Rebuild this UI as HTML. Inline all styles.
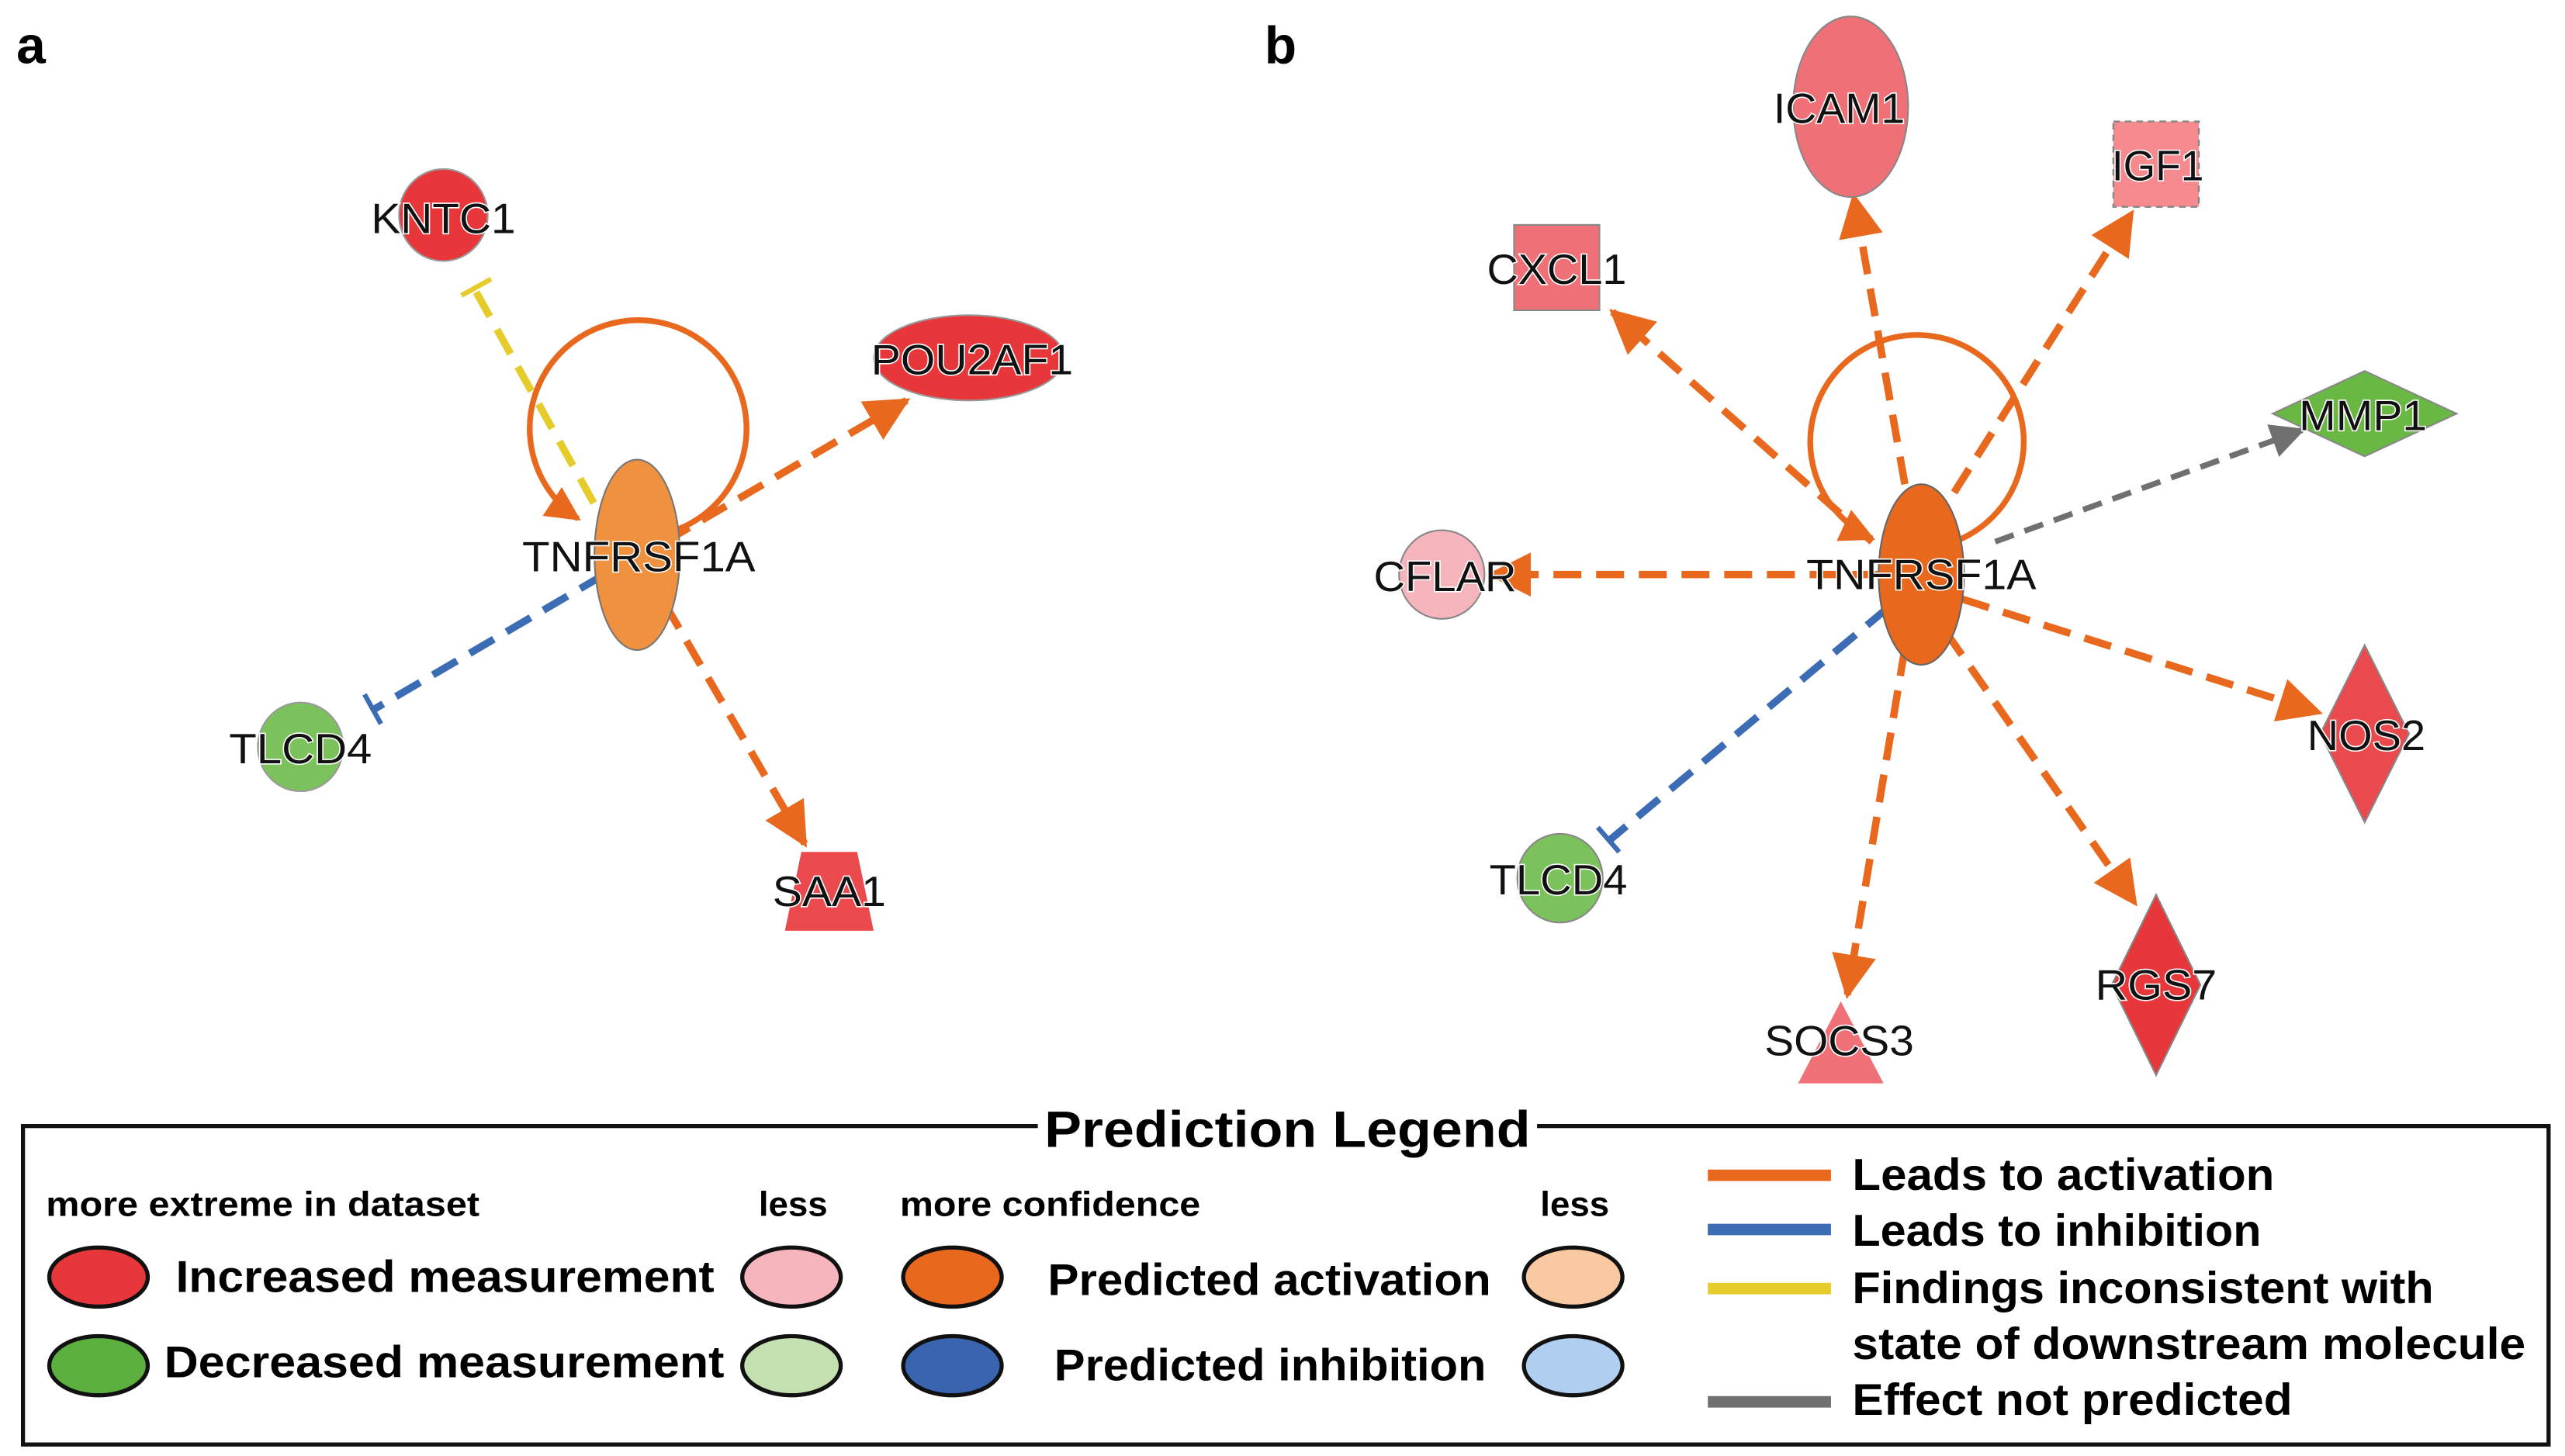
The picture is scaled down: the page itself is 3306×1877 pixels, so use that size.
<!DOCTYPE html>
<html><head><meta charset="utf-8"><style>
html,body{margin:0;padding:0;background:#fff;}
svg{display:block;}
.n{font-family:"Liberation Sans",Arial,sans-serif;font-size:26px;fill:#111;text-anchor:middle;dominant-baseline:central;paint-order:stroke;stroke:#fff;stroke-width:1.5px;}
.lg{font-family:"Liberation Sans",Arial,sans-serif;font-weight:bold;fill:#000;dominant-baseline:central;}
</style></head><body>
<svg width="3306" height="1877" viewBox="0 0 1562 887" preserveAspectRatio="none" xmlns="http://www.w3.org/2000/svg">
<defs>
<marker id="ao" viewBox="0 0 10 10" refX="9" refY="5" markerWidth="6" markerHeight="6" markerUnits="strokeWidth" orient="auto"><path d="M0,0 L10,5 L0,10 z" fill="#e8681e"/></marker>
<marker id="ag" viewBox="0 0 10 10" refX="9" refY="5" markerWidth="6" markerHeight="6" markerUnits="strokeWidth" orient="auto"><path d="M0,0 L10,5 L0,10 z" fill="#707070"/></marker>
</defs>
<rect width="1562" height="887" fill="#fff"/>
<text x="10" y="28" class="lg" style="font-size:32px">a</text>
<text x="770" y="28" class="lg" style="font-size:32px">b</text>

<!-- Panel a -->
<g fill="none" stroke-width="4.5" stroke-dasharray="17 9">
<line x1="290" y1="178" x2="368" y2="318" stroke="#e6cc2a"/>
<line x1="368" y1="350" x2="228" y2="432" stroke="#3c6cb4"/>
<line x1="405" y1="330" x2="552" y2="244" stroke="#e8681e" marker-end="url(#ao)"/>
<line x1="405" y1="368" x2="490" y2="514" stroke="#e8681e" marker-end="url(#ao)"/>
</g>
<line x1="281" y1="180" x2="299" y2="170" stroke="#e6cc2a" stroke-width="3"/>
<line x1="222" y1="423" x2="232" y2="441" stroke="#3c6cb4" stroke-width="3"/>
<path d="M405,325 A66,66 0 1 0 352,316" fill="none" stroke="#e8681e" stroke-width="3.5" marker-end="url(#ao)"/>
<ellipse cx="270" cy="131" rx="27" ry="28" fill="#e8373a" stroke="#999" stroke-width="1"/>
<ellipse cx="590" cy="218" rx="58" ry="26" fill="#e8373a" stroke="#999" stroke-width="1"/>
<ellipse cx="183" cy="455" rx="26" ry="27" fill="#7cc25c" stroke="#999" stroke-width="1"/>
<polygon points="488,519 522,519 532,567 478,567" fill="#ea4a4e"/>
<ellipse cx="388" cy="338" rx="26" ry="58" fill="#f0913f" stroke="#777" stroke-width="1"/>
<text x="270" y="133" class="n" textLength="88" lengthAdjust="spacingAndGlyphs">KNTC1</text>
<text x="592" y="219" class="n" textLength="123" lengthAdjust="spacingAndGlyphs">POU2AF1</text>
<text x="389" y="339" class="n" textLength="142" lengthAdjust="spacingAndGlyphs">TNFRSF1A</text>
<text x="183" y="456" class="n" textLength="87" lengthAdjust="spacingAndGlyphs">TLCD4</text>
<text x="505" y="543" class="n" textLength="69" lengthAdjust="spacingAndGlyphs">SAA1</text>

<!-- Panel b -->
<g fill="none" stroke-width="4.5" stroke-dasharray="17 9">
<line x1="1160" y1="295" x2="1129" y2="120" stroke="#e8681e" marker-end="url(#ao)"/>
<line x1="1190" y1="300" x2="1298" y2="130" stroke="#e8681e" marker-end="url(#ao)"/>
<line x1="1140" y1="330" x2="982" y2="190" stroke="#e8681e" marker-end="url(#ao)"/>
<line x1="1145" y1="350" x2="908" y2="350" stroke="#e8681e" marker-end="url(#ao)"/>
<line x1="1195" y1="365" x2="1412" y2="434" stroke="#e8681e" marker-end="url(#ao)"/>
<line x1="1185" y1="385" x2="1300" y2="550" stroke="#e8681e" marker-end="url(#ao)"/>
<line x1="1160" y1="395" x2="1125" y2="606" stroke="#e8681e" marker-end="url(#ao)"/>
<line x1="1150" y1="370" x2="980" y2="512" stroke="#3c6cb4"/>
<line x1="1215" y1="330" x2="1402" y2="262" stroke="#707070" stroke-width="3.5" stroke-dasharray="12 7" marker-end="url(#ag)"/>
</g>
<line x1="973" y1="504" x2="986" y2="519" stroke="#3c6cb4" stroke-width="3"/>
<path d="M1190,330 A65,65 0 1 0 1140,328" fill="none" stroke="#e8681e" stroke-width="3.5" marker-end="url(#ao)"/>
<ellipse cx="1127" cy="65" rx="35" ry="55" fill="#f07078" stroke="#888" stroke-width="1"/>
<rect x="1287" y="74" width="52" height="52" fill="#f48a8e" stroke="#888" stroke-width="1.2" stroke-dasharray="4 3"/>
<rect x="922" y="137" width="52" height="52" fill="#f07078" stroke="#888" stroke-width="1"/>
<polygon points="1384,252 1440,226 1496,252 1440,278" fill="#6ab844" stroke="#888" stroke-width="1"/>
<ellipse cx="878" cy="350" rx="26" ry="27" fill="#f6b4bc" stroke="#888" stroke-width="1"/>
<polygon points="1440,393 1467,447 1440,501 1413,447" fill="#ea4a4e" stroke="#888" stroke-width="1"/>
<ellipse cx="950" cy="535" rx="26" ry="27" fill="#7cc25c" stroke="#888" stroke-width="1"/>
<polygon points="1313,545 1340,600 1313,655 1286,600" fill="#e8373a" stroke="#888" stroke-width="1"/>
<polygon points="1121,610 1147,660 1095,660" fill="#f07078"/>
<ellipse cx="1170" cy="350" rx="26" ry="55" fill="#e8681e" stroke="#666" stroke-width="1"/>
<text x="1120" y="66" class="n" textLength="80" lengthAdjust="spacingAndGlyphs">ICAM1</text>
<text x="1314" y="101" class="n" textLength="56" lengthAdjust="spacingAndGlyphs">IGF1</text>
<text x="948" y="164" class="n" textLength="85" lengthAdjust="spacingAndGlyphs">CXCL1</text>
<text x="1439" y="253" class="n" textLength="78" lengthAdjust="spacingAndGlyphs">MMP1</text>
<text x="880" y="351" class="n" textLength="87" lengthAdjust="spacingAndGlyphs">CFLAR</text>
<text x="1170" y="350" class="n" textLength="140" lengthAdjust="spacingAndGlyphs">TNFRSF1A</text>
<text x="1441" y="448" class="n" textLength="72" lengthAdjust="spacingAndGlyphs">NOS2</text>
<text x="949" y="536" class="n" textLength="84" lengthAdjust="spacingAndGlyphs">TLCD4</text>
<text x="1313" y="600" class="n" textLength="74" lengthAdjust="spacingAndGlyphs">RGS7</text>
<text x="1120" y="634" class="n" textLength="91" lengthAdjust="spacingAndGlyphs">SOCS3</text>

<!-- Legend -->
<rect x="14" y="686" width="1538" height="194" fill="none" stroke="#111" stroke-width="2.5"/>
<rect x="632" y="670" width="304" height="34" fill="#fff"/>
<text x="636" y="688" class="lg" style="font-size:31px" textLength="296" lengthAdjust="spacingAndGlyphs">Prediction Legend</text>
<text x="28" y="734" class="lg" style="font-size:21px" textLength="264" lengthAdjust="spacingAndGlyphs">more extreme in dataset</text>
<text x="462" y="734" class="lg" style="font-size:21px" textLength="42" lengthAdjust="spacingAndGlyphs">less</text>
<text x="548" y="734" class="lg" style="font-size:21px" textLength="183" lengthAdjust="spacingAndGlyphs">more confidence</text>
<text x="938" y="734" class="lg" style="font-size:21px" textLength="42" lengthAdjust="spacingAndGlyphs">less</text>
<g stroke="#111" stroke-width="2.5">
<ellipse cx="60" cy="778" rx="30" ry="18" fill="#e8373a"/>
<ellipse cx="482" cy="778" rx="30" ry="18" fill="#f6b4bc"/>
<ellipse cx="580" cy="778" rx="30" ry="18" fill="#e8681e"/>
<ellipse cx="958" cy="778" rx="30" ry="18" fill="#f8c8a0"/>
<ellipse cx="60" cy="832" rx="30" ry="18" fill="#5cb040"/>
<ellipse cx="482" cy="832" rx="30" ry="18" fill="#c4e0b0"/>
<ellipse cx="580" cy="832" rx="30" ry="18" fill="#3864b0"/>
<ellipse cx="958" cy="832" rx="30" ry="18" fill="#b0cef0"/>
</g>
<text x="107" y="778" class="lg" style="font-size:27px" textLength="328" lengthAdjust="spacingAndGlyphs">Increased measurement</text>
<text x="100" y="830" class="lg" style="font-size:27px" textLength="341" lengthAdjust="spacingAndGlyphs">Decreased measurement</text>
<text x="638" y="780" class="lg" style="font-size:27px" textLength="270" lengthAdjust="spacingAndGlyphs">Predicted activation</text>
<text x="642" y="832" class="lg" style="font-size:27px" textLength="263" lengthAdjust="spacingAndGlyphs">Predicted inhibition</text>
<g stroke-width="7">
<line x1="1040" y1="716" x2="1115" y2="716" stroke="#e8681e"/>
<line x1="1040" y1="749" x2="1115" y2="749" stroke="#3c6cb4"/>
<line x1="1040" y1="785" x2="1115" y2="785" stroke="#e6cc2a"/>
<line x1="1040" y1="854" x2="1115" y2="854" stroke="#707070"/>
</g>
<text x="1128" y="716" class="lg" style="font-size:27px" textLength="257" lengthAdjust="spacingAndGlyphs">Leads to activation</text>
<text x="1128" y="750" class="lg" style="font-size:27px" textLength="249" lengthAdjust="spacingAndGlyphs">Leads to inhibition</text>
<text x="1128" y="785" class="lg" style="font-size:27px" textLength="354" lengthAdjust="spacingAndGlyphs">Findings inconsistent with</text>
<text x="1128" y="819" class="lg" style="font-size:27px" textLength="410" lengthAdjust="spacingAndGlyphs">state of downstream molecule</text>
<text x="1128" y="853" class="lg" style="font-size:27px" textLength="268" lengthAdjust="spacingAndGlyphs">Effect not predicted</text>
</svg>
</body></html>
